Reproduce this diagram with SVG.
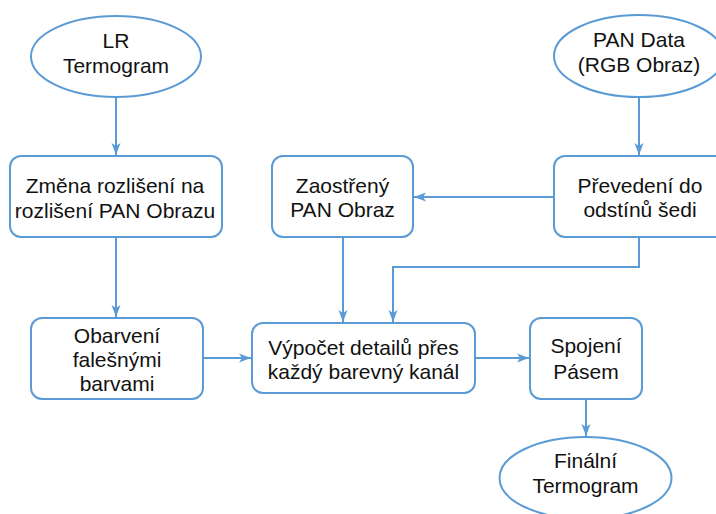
<svg xmlns="http://www.w3.org/2000/svg" width="716" height="514" viewBox="0 0 716 514">
<style>
.n{fill:#fff;stroke:#5b9bd5;stroke-width:2}
.t{font-family:"Liberation Sans",Arial,sans-serif;font-size:21px;fill:#111;text-anchor:middle}
.c{fill:none;stroke:#5b9bd5;stroke-width:2}
</style>
<defs>
<marker id="a" markerUnits="userSpaceOnUse" markerWidth="13" markerHeight="11" refX="12" refY="5.5" orient="auto">
<path d="M0,1 L12,5.5 L0,10 L3,5.5 z" fill="#5b9bd5"/>
</marker>
</defs>
<rect width="716" height="514" fill="#fff"/>
<g id="connectors">
<path class="c" d="M116,97 V155" marker-end="url(#a)"/>
<path class="c" d="M116,237 V317" marker-end="url(#a)"/>
<path class="c" d="M639,97 V155" marker-end="url(#a)"/>
<path class="c" d="M554,197 H414" marker-end="url(#a)"/>
<path class="c" d="M343,237 V322" marker-end="url(#a)"/>
<path class="c" d="M639,237 V267 H393 V322" marker-end="url(#a)"/>
<path class="c" d="M203,358 H251" marker-end="url(#a)"/>
<path class="c" d="M475,358 H529" marker-end="url(#a)"/>
<path class="c" d="M586,399 V436" marker-end="url(#a)"/>
</g>
<g id="lr">
<ellipse class="n" cx="116" cy="56.5" rx="85" ry="40.5"/>
<text class="t" x="116" y="48">LR</text>
<text class="t" x="116" y="73">Termogram</text>
</g>
<g id="pan">
<ellipse class="n" cx="639" cy="56" rx="85" ry="41"/>
<text class="t" x="639" y="47">PAN Data</text>
<text class="t" x="639" y="72">(RGB Obraz)</text>
</g>
<g id="zmena">
<rect class="n" x="10" y="156" width="212" height="81" rx="11"/>
<text class="t" x="115" y="193">Změna rozlišení na</text>
<text class="t" x="115" y="218">rozlišení PAN Obrazu</text>
</g>
<g id="zaostreny">
<rect class="n" x="272" y="156" width="141" height="81" rx="11"/>
<text class="t" x="342.5" y="193">Zaostřený</text>
<text class="t" x="342.5" y="217">PAN Obraz</text>
</g>
<g id="prevedeni">
<rect class="n" x="554" y="156" width="172" height="81" rx="11"/>
<text class="t" x="640" y="193">Převedení do</text>
<text class="t" x="640" y="217">odstínů šedi</text>
</g>
<g id="obarveni">
<rect class="n" x="31" y="318" width="172" height="81" rx="11"/>
<text class="t" x="117" y="343">Obarvení</text>
<text class="t" x="117" y="367">falešnými</text>
<text class="t" x="117" y="391">barvami</text>
</g>
<g id="vypocet">
<rect class="n" x="252" y="323" width="223" height="70" rx="11"/>
<text class="t" x="363.5" y="355">Výpočet detailů přes</text>
<text class="t" x="363.5" y="379">každý barevný kanál</text>
</g>
<g id="spojeni">
<rect class="n" x="530" y="318" width="112" height="81" rx="11"/>
<text class="t" x="586" y="353">Spojení</text>
<text class="t" x="586" y="379">Pásem</text>
</g>
<g id="finalni">
<ellipse class="n" cx="585.5" cy="478" rx="86" ry="41"/>
<text class="t" x="585.5" y="468">Finální</text>
<text class="t" x="585.5" y="493">Termogram</text>
</g>
</svg>
